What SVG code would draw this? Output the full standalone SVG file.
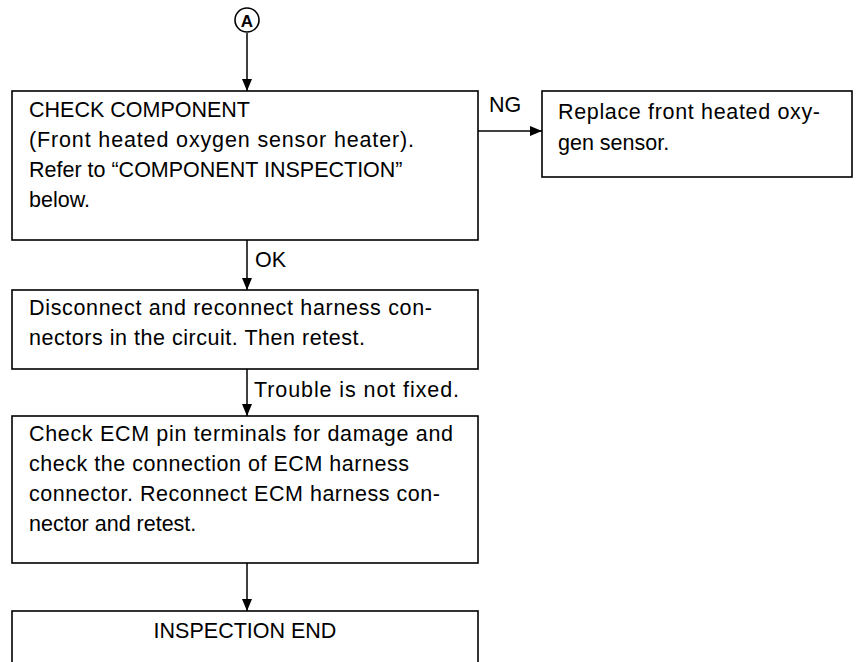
<svg xmlns="http://www.w3.org/2000/svg" width="858" height="662" viewBox="0 0 858 662">
<defs>
<marker id="ah" viewBox="0 0 12 10" refX="12" refY="5" markerWidth="12" markerHeight="10" markerUnits="userSpaceOnUse" orient="auto">
<path d="M0,0 L12,5 L0,10 z" fill="#000"/>
</marker>
<style>
.box{fill:#fff;stroke:#000;stroke-width:1.6}
.t{font-family:"Liberation Sans",Arial,sans-serif;font-size:21.5px;fill:#000}
.c{stroke:#000;stroke-width:1.5;fill:none;marker-end:url(#ah)}
</style>
</defs>
<rect width="858" height="662" fill="#fff"/>
<g id="startA">
<circle cx="247" cy="20" r="12" fill="#fff" stroke="#000" stroke-width="1.6"/>
<text x="247" y="26.5" text-anchor="middle" style="font-family:'Liberation Sans',Arial,sans-serif;font-size:17px;font-weight:bold">A</text>
</g>
<g id="connectors">
<line class="c" x1="247" y1="33" x2="247" y2="91"/>
<line class="c" x1="478" y1="131" x2="542" y2="131"/>
<text class="t" x="489" y="112">NG</text>
<line class="c" x1="247" y1="240" x2="247" y2="290"/>
<text class="t" x="255" y="267">OK</text>
<line class="c" x1="247" y1="369" x2="247" y2="416"/>
<text class="t" x="254" y="397" textLength="205" lengthAdjust="spacing">Trouble is not fixed.</text>
<line class="c" x1="247" y1="563" x2="247" y2="611"/>
</g>
<g id="check">
<rect class="box" x="12" y="91" width="466" height="149"/>
<text class="t" x="29" y="117">CHECK COMPONENT</text>
<text class="t" x="29" y="147" textLength="385" lengthAdjust="spacing">(Front heated oxygen sensor heater).</text>
<text class="t" x="29" y="177">Refer to “COMPONENT INSPECTION”</text>
<text class="t" x="29" y="207">below.</text>
</g>
<g id="replace">
<rect class="box" x="542" y="91" width="310" height="86"/>
<text class="t" x="558" y="119" textLength="262" lengthAdjust="spacing">Replace front heated oxy-</text>
<text class="t" x="558" y="150">gen sensor.</text>
</g>
<g id="reconnect">
<rect class="box" x="12" y="290" width="466" height="79"/>
<text class="t" x="29" y="315" textLength="403" lengthAdjust="spacing">Disconnect and reconnect harness con-</text>
<text class="t" x="29" y="345" textLength="336" lengthAdjust="spacing">nectors in the circuit. Then retest.</text>
</g>
<g id="ecm">
<rect class="box" x="12" y="416" width="466" height="147"/>
<text class="t" x="29" y="441" textLength="424" lengthAdjust="spacing">Check ECM pin terminals for damage and</text>
<text class="t" x="29" y="471" textLength="380" lengthAdjust="spacing">check the connection of ECM harness</text>
<text class="t" x="29" y="501" textLength="411" lengthAdjust="spacing">connector. Reconnect ECM harness con-</text>
<text class="t" x="29" y="531">nector and retest.</text>
</g>
<g id="end">
<rect class="box" x="12" y="611" width="466" height="80"/>
<text class="t" x="245" y="638" text-anchor="middle">INSPECTION END</text>
</g>
</svg>
